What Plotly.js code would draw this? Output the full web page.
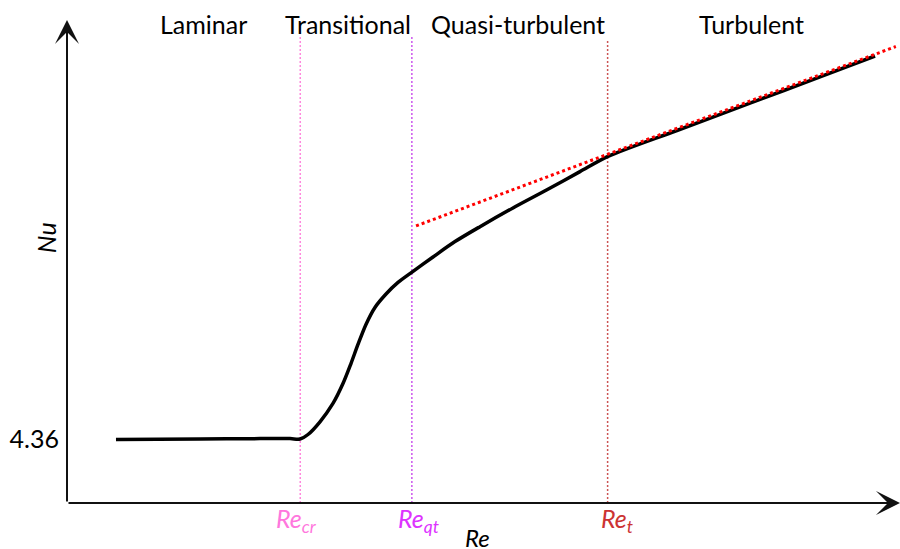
<!DOCTYPE html>
<html>
<head>
<meta charset="utf-8">
<script src="https://cdn.plot.ly/plotly-3.0.1.min.js"></script>
<style>html,body{margin:0;padding:0;background:#fff}#chart{width:900px;height:549px}</style>
</head>
<body>
<div id="chart"></div>
<script>
// Schematic Nu vs Re curve (arbitrary Re units, Nu units with laminar value 4.36)
var curveRe = [5.88, 15.97, 23.17, 26.77, 27.97, 28.93, 30.37, 31.93, 33.13, 34.09, 34.93, 35.89, 36.97, 38.30, 39.74, 41.42, 43.94, 46.58, 49.58, 53.54, 57.62, 61.58, 64.95, 73.22, 81.99, 90.40, 97.00];
var curveNu = [4.34, 4.37, 4.40, 4.40, 4.37, 4.68, 5.55, 6.80, 8.16, 9.53, 10.83, 12.20, 13.36, 14.28, 15.07, 15.78, 16.81, 17.86, 18.88, 20.16, 21.40, 22.64, 23.68, 25.45, 27.32, 29.11, 30.54];
var turbRe = [41.9, 99.5];
var turbNu = [18.93, 31.19];
var thresholdRe = [28.0, 41.4, 64.9];
var thresholdTop = [31.84, 31.84, 31.63];
var thresholdLabels = ['<i>Re<sub>cr</sub></i>', '<i>Re<sub>qt</sub></i>', '<i>Re<sub>t</sub></i>'];
var regimeLabels = ['Laminar', 'Transitional', 'Quasi-turbulent', 'Turbulent'];
var regimeRe = [16.4, 33.7, 54.1, 82.2];
var laminarNu = 4.36;

var lineColors = ['#ff88dd', '#cc55ee', '#cc5555'];
var labelColors = ['#ff77dd', '#dd33ff', '#cc3333'];
var labelShift = [-4, 7, 9];

var traces = [];
for (var i = 0; i < thresholdRe.length; i++) {
  traces.push({
    x: [thresholdRe[i], thresholdRe[i]], y: [0, thresholdTop[i]],
    mode: 'lines', line: {color: lineColors[i], width: 1.5, dash: '2px,2px'},
    hoverinfo: 'skip', showlegend: false
  });
}
traces.push({
  x: curveRe, y: curveNu, mode: 'lines',
  line: {color: '#000', width: 3.5, shape: 'spline', smoothing: 0.8},
  hoverinfo: 'skip', showlegend: false
});
traces.push({
  x: turbRe, y: turbNu, mode: 'lines',
  line: {color: '#ff0000', width: 3, dash: 'dot'},
  hoverinfo: 'skip', showlegend: false
});

var font = 'Lato, "Open Sans", sans-serif';
var ann = [];
// axis arrows
ann.push({x: 0, y: 33, xref: 'x', yref: 'y', ax: 0, ay: 0, axref: 'x', ayref: 'y',
  showarrow: true, arrowhead: 3, arrowsize: 2, arrowwidth: 2, arrowcolor: '#111', text: ''});
ann.push({x: 100, y: 0, xref: 'x', yref: 'y', ax: 0, ay: 0, axref: 'x', ayref: 'y',
  showarrow: true, arrowhead: 3, arrowsize: 2, arrowwidth: 2, arrowcolor: '#111', text: ''});
// regime labels
for (var j = 0; j < regimeLabels.length; j++) {
  ann.push({x: regimeRe[j], y: 0.992, xref: 'x', yref: 'paper', yanchor: 'middle', xanchor: 'center',
    text: regimeLabels[j], showarrow: false, font: {family: font, size: 25, color: '#000'}});
}
// threshold labels
for (var k = 0; k < thresholdRe.length; k++) {
  ann.push({x: thresholdRe[k], y: -0.036, xref: 'x', yref: 'paper', yanchor: 'middle', xanchor: 'center',
    xshift: labelShift[k], text: thresholdLabels[k], showarrow: false,
    font: {family: font, size: 25, color: labelColors[k]}});
}
// axis titles
ann.push({x: 49.3, y: -0.072, xref: 'x', yref: 'paper', yanchor: 'middle', xanchor: 'center',
  text: '<i>Re</i>', showarrow: false, font: {family: font, size: 24, color: '#000'}});
ann.push({x: -0.026, y: 0.549, xref: 'paper', yref: 'paper', yanchor: 'middle', xanchor: 'center',
  text: '<i>Nu</i>', textangle: -90, showarrow: false, font: {family: font, size: 25, color: '#000'}});

var layout = {
  width: 900, height: 549,
  margin: {l: 67, r: 0, t: 20, b: 46},
  paper_bgcolor: '#fff', plot_bgcolor: '#fff',
  showlegend: false,
  xaxis: {range: [0, 100], showgrid: false, zeroline: false, showline: false,
    showticklabels: false, ticks: '', fixedrange: true},
  yaxis: {range: [0, 33], showgrid: false, zeroline: false, showline: false,
    tickvals: [laminarNu], ticktext: ['4.36'], ticks: '', ticklabelstandoff: 7,
    tickfont: {family: font, size: 25, color: '#000'}, fixedrange: true},
  annotations: ann
};

Plotly.newPlot('chart', traces, layout, {displayModeBar: false, staticPlot: true});
</script>
</body>
</html>
